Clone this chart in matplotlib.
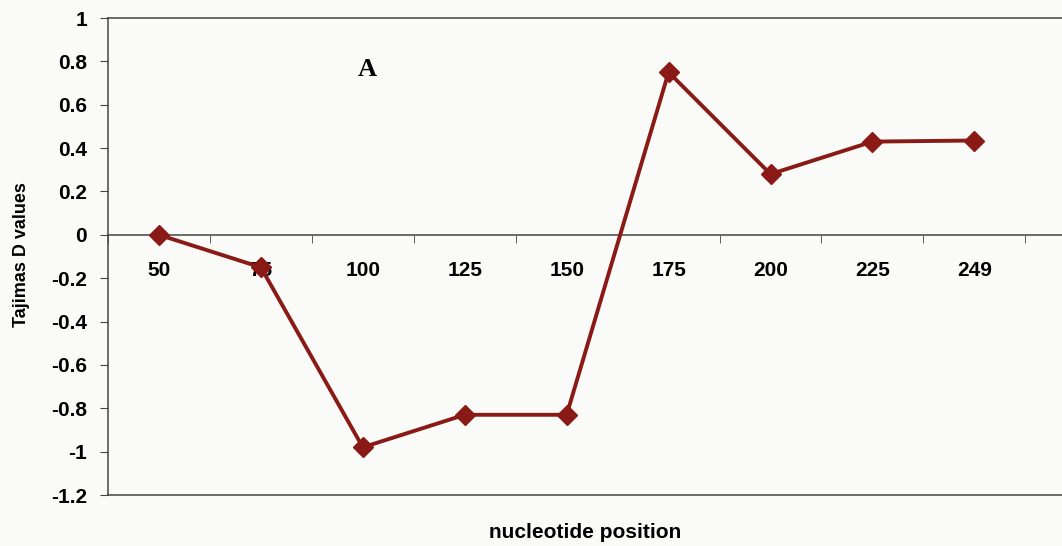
import matplotlib
matplotlib.use("Agg")
import matplotlib.pyplot as plt
from matplotlib.ticker import FixedLocator, NullFormatter

# Tajima's D per finestra di posizione nucleotidica
posizioni = ["50", "75", "100", "125", "150", "175", "200", "225", "249"]
tajima_d = [0.0, -0.15, -0.98, -0.83, -0.83, 0.75, 0.28, 0.43, 0.435]
y_ticks = [1, 0.8, 0.6, 0.4, 0.2, 0, -0.2, -0.4, -0.6, -0.8, -1, -1.2]

ROSSO = "#8a1a16"
GRIGIO = "#444444"
SFONDO = "#fafaf8"
plt.rcParams["font.family"] = ["Liberation Sans", "DejaVu Sans"]

fig = plt.figure(figsize=(10.62, 5.46), dpi=100, facecolor=SFONDO)
ax = fig.add_axes([0.1017, 0.0934, 0.8983, 0.8736])
ax.set_facecolor(SFONDO)

x = list(range(len(posizioni)))
ax.plot(x, tajima_d, "-D", color=ROSSO, lw=2.8, ms=10, mec=ROSSO, mfc=ROSSO, zorder=3)

ax.set_xlim(-0.5, 8.86)
ax.set_ylim(-1.2, 1)

# asse categorie sullo zero, tacche tra le categorie
ax.spines["bottom"].set_position(("data", 0))
ax.spines["right"].set_visible(False)
for s in ("bottom", "top", "left"):
    ax.spines[s].set_color(GRIGIO)
    ax.spines[s].set_linewidth(1.1)
ax.axhline(-1.2, color=GRIGIO, lw=1.1, clip_on=False)

ax.set_xticks(x)
ax.set_xticklabels(posizioni, fontsize=15, fontweight="bold")
ax.xaxis.set_minor_locator(FixedLocator([i + 0.5 for i in range(-1, 9)]))
ax.xaxis.set_minor_formatter(NullFormatter())
ax.tick_params(axis="x", which="major", length=0, pad=19)
ax.tick_params(axis="x", which="minor", length=6, direction="out", color=GRIGIO)

ax.set_yticks(y_ticks)
ax.set_yticklabels([f"{v:g}" for v in y_ticks], fontsize=15, fontweight="bold")
ax.tick_params(axis="y", length=6, direction="out", color=GRIGIO, pad=9)

ax.set_ylabel("Tajimas D values", fontsize=13, fontweight="bold")
ax.yaxis.set_label_coords(-0.082, 0.505)
fig.text(0.551, 0.015, "nucleotide position", fontsize=15, fontweight="bold",
         ha="center", va="baseline")

ax.text(2.04, 0.733, "A", fontsize=19, fontweight="bold",
        family=["Liberation Serif", "DejaVu Serif"], ha="center", va="baseline")

fig.savefig("out.png", dpi=100, facecolor=fig.get_facecolor())
